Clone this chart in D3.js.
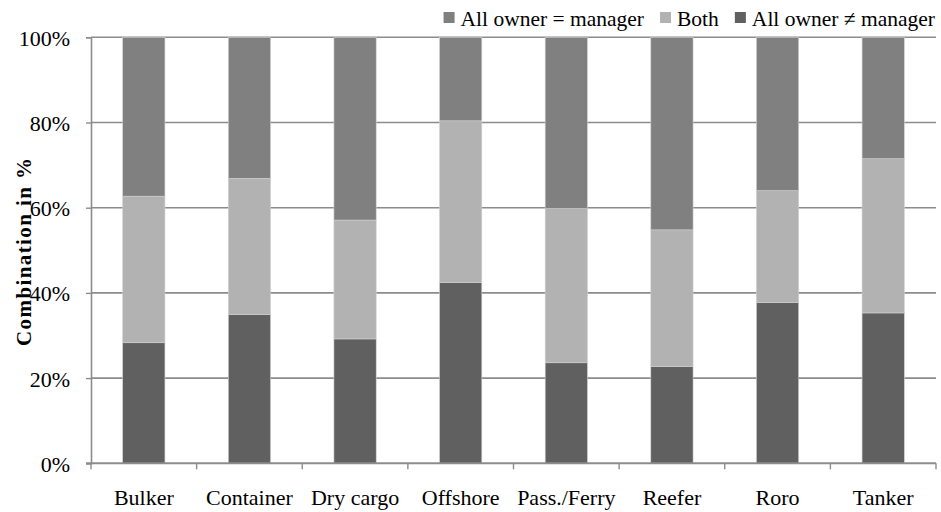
<!DOCTYPE html>
<html><head><meta charset="utf-8">
<script src="https://cdn.jsdelivr.net/npm/d3@7"></script>
<style>body{margin:0;background:#fff}svg{display:block}</style>
</head><body>
<svg id="c" width="941" height="512"></svg>
<script>
const categories = ["Bulker","Container","Dry cargo","Offshore","Pass./Ferry","Reefer","Roro","Tanker"];
const ownerNotManager = [28.3, 34.9, 29.2, 42.4, 23.6, 22.7, 37.7, 35.3];
const both = [34.4, 32.0, 27.9, 38.0, 36.2, 32.1, 26.3, 36.2];
const ownerEqManager = [37.3, 33.1, 42.9, 19.6, 40.2, 45.2, 36.0, 28.5];
const yTicks = [0, 20, 40, 60, 80, 100];
const seriesNames = ["All owner \u2260 manager", "Both", "All owner = manager"];
const colors = ["#606060", "#b2b2b2", "#808080"];

const svg = d3.select("#c");
const font = "\"Liberation Serif\"";
const m = {l:91, r:936, t:37.3, b:463.3};
const x = d3.scaleBand().domain(categories).range([m.l, m.r]).paddingInner(0.6).paddingOuter(0.3);
const y = d3.scaleLinear().domain([0,100]).range([m.b, m.t]);

// gridlines
svg.append("g").selectAll("line").data(yTicks.filter(d=>d>0)).join("line")
  .attr("x1", m.l).attr("x2", m.r).attr("y1", d=>y(d)).attr("y2", d=>y(d))
  .attr("stroke", "#8c8c8c").attr("stroke-width", 1.6);

const rows = categories.map((c,i)=>({cat:c, s0:ownerNotManager[i], s1:both[i], s2:ownerEqManager[i]}));
const stack = d3.stack().keys(["s0","s1","s2"])(rows);
svg.append("g").selectAll("g").data(stack).join("g")
  .attr("fill", (d,i)=>colors[i])
  .selectAll("rect").data(d=>d).join("rect")
  .attr("x", d=>x(d.data.cat)).attr("width", x.bandwidth())
  .attr("y", d=>y(d[1])).attr("height", d=>y(d[0])-y(d[1]))
  .attr("stroke", "#d0d0d0").attr("stroke-width", 0.6);

// y axis
const ya = svg.append("g").attr("transform", `translate(${m.l},0)`)
  .call(d3.axisLeft(y).tickValues(yTicks).tickFormat(d=>d+"%").tickSize(5).tickPadding(16));
ya.attr("font-family", null);
ya.select(".domain").attr("stroke", "#8c8c8c").attr("stroke-width", 1.6);
ya.selectAll(".tick line").attr("stroke", "#8c8c8c").attr("stroke-width", 1.4);
ya.selectAll("text").style("font-family", font).attr("font-size", 22).attr("fill", "#000")
  .attr("dy", "0.36em");

// x axis
const xa = svg.append("g").attr("transform", `translate(0,${m.b})`)
  .call(d3.axisBottom(x).tickSize(0).tickPadding(26));
xa.attr("font-family", null);
xa.select(".domain").remove();
xa.selectAll("text").style("font-family", font).attr("font-size", 22).attr("fill", "#000");
svg.append("line").attr("x1", m.l-5).attr("x2", m.r).attr("y1", m.b).attr("y2", m.b)
  .attr("stroke", "#8c8c8c").attr("stroke-width", 2);
svg.append("g").selectAll("line").data(d3.range(categories.length+1)).join("line")
  .attr("x1", i=>m.l+i*(m.r-m.l)/categories.length).attr("x2", i=>m.l+i*(m.r-m.l)/categories.length)
  .attr("y1", m.b).attr("y2", m.b+6).attr("stroke", "#8c8c8c").attr("stroke-width", 1.4);

// y label
svg.append("text").attr("transform", "translate(31,252) rotate(-90)")
  .attr("text-anchor", "middle").style("font-family", font).attr("font-weight", "bold")
  .attr("font-size", 21).attr("textLength", 188).attr("lengthAdjust", "spacing")
  .text("Combination in %");

// legend, laid out right-to-left ending at x=935
let right = 935;
[0,1,2].forEach(si=>{
  const t = svg.append("text").attr("y", 26).style("font-family", font)
    .attr("font-size", 21.5).attr("text-anchor", "end").attr("x", right).text(seriesNames[si]);
  const w = t.node().getComputedTextLength();
  const sx = right - w - 6;
  svg.append("rect").attr("x", sx - 11).attr("y", 12).attr("width", 11).attr("height", 11).attr("fill", colors[si]);
  right = sx - 11 - 16;
});
</script>
</body></html>
